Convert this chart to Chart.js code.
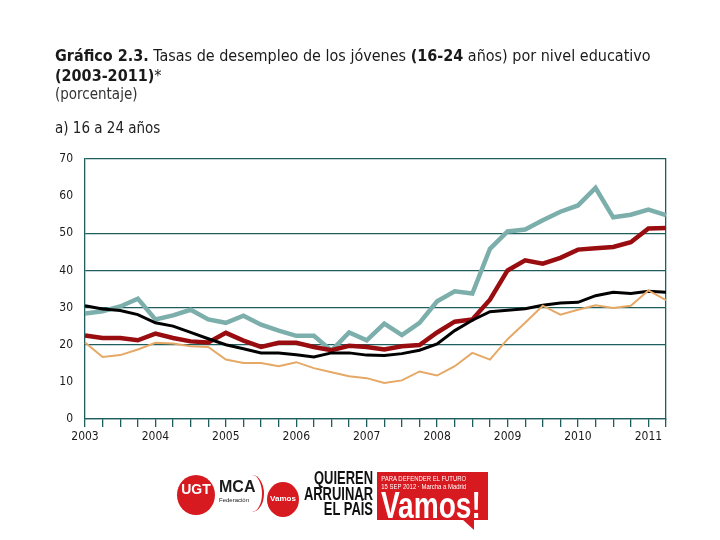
<!DOCTYPE html>
<html>
<head>
<meta charset="utf-8">
<script src="https://cdn.jsdelivr.net/npm/chart.js@4.4.1/dist/chart.umd.min.js"></script>
<style>
    body { margin: 0; width: 720px; height: 540px; position: relative; background: #fff; overflow: hidden;
           font-family: "DejaVu Sans Condensed", "DejaVu Sans", sans-serif; color: #1a1a1a; }
    #chartBox { position: absolute; left: 0; top: 0; width: 720px; height: 540px; }
    .txt { position: absolute; left: 55px; white-space: nowrap; }
    #t1 { top: 46px; font-size: 16px; }
    #t2 { top: 66px; font-size: 16px; }
    #t3 { top: 85px; font-size: 15px; color: #333; }
    #t4 { top: 119px; font-size: 15px; color: #222; }
    b { font-weight: bold; }
    .logo { position: absolute; white-space: nowrap; }
    .circle { border-radius: 50%; background: #d71920; color: #fff; text-align: center; font-family: "Liberation Sans", sans-serif; font-weight: bold; }
    #ugt { left: 177px; top: 475px; width: 38px; height: 40px; line-height: 28px; font-size: 14px; }
    #mca { left: 219px; top: 479px; font-family: "Liberation Sans", sans-serif; font-weight: bold; font-size: 16px; line-height: 16px; }
    #mca small { display: block; font-size: 6px; font-weight: normal; line-height: 10px; }
    #arc { left: 240px; top: 475px; width: 22px; height: 37px; border-right: 2px solid #d71920; border-radius: 50%; }
    #vamosC { left: 267px; top: 482px; width: 32px; height: 35px; line-height: 34px; font-size: 8px; }
    #quieren { left: 273px; top: 471px; width: 100px; text-align: right; font-family: "Liberation Sans", sans-serif;
               font-weight: bold; font-size: 18px; line-height: 15.5px; color: #111;
               transform: scaleX(0.72); transform-origin: right top; }
    #redBox { left: 377px; top: 472px; width: 111px; height: 48px; background: #d71920; color: #fff; font-family: "Liberation Sans", sans-serif; overflow: hidden; }
    #redBox .small { font-size: 7px; line-height: 8px; padding: 3px 0 0 5px; transform: scaleX(0.85); transform-origin: left top; }
    #redBox .big { font-size: 36px; font-weight: bold; line-height: 30px; padding-left: 5px; transform: scaleX(0.78); transform-origin: left top; }
    #tail { left: 462px; top: 519px; width: 0; height: 0; border-left: 12px solid transparent; border-top: 11px solid #d71920; }
</style>
</head>
<body>
<div id="chartBox"><canvas id="desempleoChart" width="720" height="540"></canvas></div>
<div class="txt" id="t1"><b>Gráfico 2.3.</b> Tasas de desempleo de los jóvenes <b>(16-24</b> años) por nivel educativo</div>
<div class="txt" id="t2"><b>(2003-2011)</b>*</div>
<div class="txt" id="t3">(porcentaje)</div>
<div class="txt" id="t4">a) 16 a 24 años</div>

<div class="logo circle" id="ugt">UGT</div>
<div class="logo" id="mca">MCA<small>Federación</small></div>
<div class="logo" id="arc"></div>
<div class="logo circle" id="vamosC">Vamos</div>
<div class="logo" id="quieren">QUIEREN<br>ARRUINAR<br>EL PAÍS</div>
<div class="logo" id="redBox"><div class="small">PARA DEFENDER EL FUTURO<br>15 SEP 2012 · Marcha a Madrid</div><div class="big">Vamos!</div></div>
<div class="logo" id="tail"></div>

<script>
// Años del eje y trimestres (2003 T1 - 2011 T2)
const years = ['2003', '2004', '2005', '2006', '2007', '2008', '2009', '2010', '2011'];
const quarters = years.flatMap(y => ['T1', 'T2', 'T3', 'T4'].map(q => y + ' ' + q)).slice(0, 34);

const yTicks = [0, 10, 20, 30, 40, 50, 60, 70];
const gridValues = [0, 20, 30, 40, 50, 70];

// Series (porcentaje)
const primarios = [28.4, 29.0, 30.3, 32.4, 26.8, 27.9, 29.4, 26.8, 25.9, 27.8, 25.4, 23.8, 22.4, 22.4, 18.4, 23.3, 21.2,
                   25.7, 22.6, 25.9, 31.7, 34.4, 33.8, 45.8, 50.5, 51.0, 53.5, 55.8, 57.5, 62.2, 54.3, 55.0, 56.4, 54.9];
const secundaria = [22.5, 21.8, 21.8, 21.2, 23.0, 21.8, 20.9, 20.6, 23.2, 21.1, 19.4, 20.5, 20.5, 19.4, 18.5, 19.7, 19.4,
                    18.7, 19.6, 19.9, 23.3, 26.2, 26.8, 32.1, 40.0, 42.7, 41.8, 43.4, 45.6, 46.0, 46.3, 47.6, 51.3, 51.4];
const total = [30.5, 29.6, 29.2, 28.1, 25.9, 25.0, 23.3, 21.6, 20.0, 18.9, 17.8, 17.8, 17.3, 16.7, 17.8, 17.8, 17.2,
               17.1, 17.6, 18.5, 20.2, 23.8, 26.6, 28.9, 29.3, 29.7, 30.6, 31.2, 31.4, 33.2, 34.1, 33.8, 34.4, 34.1];
const superiores = [20.6, 16.7, 17.2, 18.7, 20.5, 20.3, 19.6, 19.4, 16.0, 15.1, 15.1, 14.2, 15.3, 13.7, 12.6, 11.5, 11.0,
                    9.7, 10.4, 12.8, 11.7, 14.2, 17.8, 16.0, 21.5, 25.9, 30.5, 28.1, 29.4, 30.6, 29.9, 30.5, 34.6, 32.0];

const axisColor = '#1f5e5e';
const tickFont = { family: '"DejaVu Sans Condensed", "DejaVu Sans", sans-serif', size: 12 };

function serie(label, data, color, width) {
    return {
        label: label,
        data: data,
        borderColor: color,
        borderWidth: width,
        pointRadius: 0,
        tension: 0,
        fill: false
    };
}

new Chart(document.getElementById('desempleoChart').getContext('2d'), {
    type: 'line',
    data: {
        labels: quarters,
        datasets: [
            serie('Superiores', superiores, '#e6a865', 2),
            serie('Total', total, '#000000', 3),
            serie('Secundaria', secundaria, '#990d10', 4.5),
            serie('Primarios', primarios, '#7cafab', 4.5)
        ]
    },
    options: {
        responsive: false,
        animation: false,
        events: [],
        layout: { padding: { left: 0, right: 54, top: 159, bottom: 81 } },
        plugins: { legend: { display: false }, tooltip: { enabled: false } },
        scales: {
            x: {
                offset: false,
                afterFit: s => { s.height = 40; },
                border: { display: true, color: axisColor, width: 1.3 },
                grid: { drawOnChartArea: false, drawTicks: true, tickLength: 8, color: axisColor, lineWidth: 1.3 },
                ticks: {
                    autoSkip: false,
                    maxRotation: 0,
                    padding: 3,
                    color: '#1a1a1a',
                    font: tickFont,
                    callback: (v, i) => (i % 4 === 0 ? years[i / 4] : '')
                }
            },
            y: {
                min: 0,
                max: 70,
                afterFit: s => { s.width = 85; },
                afterBuildTicks: s => { s.ticks = yTicks.map(v => ({ value: v })); },
                border: { display: true, color: axisColor, width: 1.3 },
                grid: {
                    drawTicks: false,
                    lineWidth: 1.3,
                    color: ctx => (gridValues.includes(ctx.tick.value) ? axisColor : 'rgba(0,0,0,0)')
                },
                ticks: { padding: 12, color: '#1a1a1a', font: tickFont }
            },
            yr: {
                position: 'right',
                min: 0,
                max: 70,
                afterFit: s => { s.width = 0; },
                border: { display: true, color: axisColor, width: 1.3 },
                grid: { display: false },
                ticks: { display: false }
            }
        }
    }
});
</script>
</body>
</html>
